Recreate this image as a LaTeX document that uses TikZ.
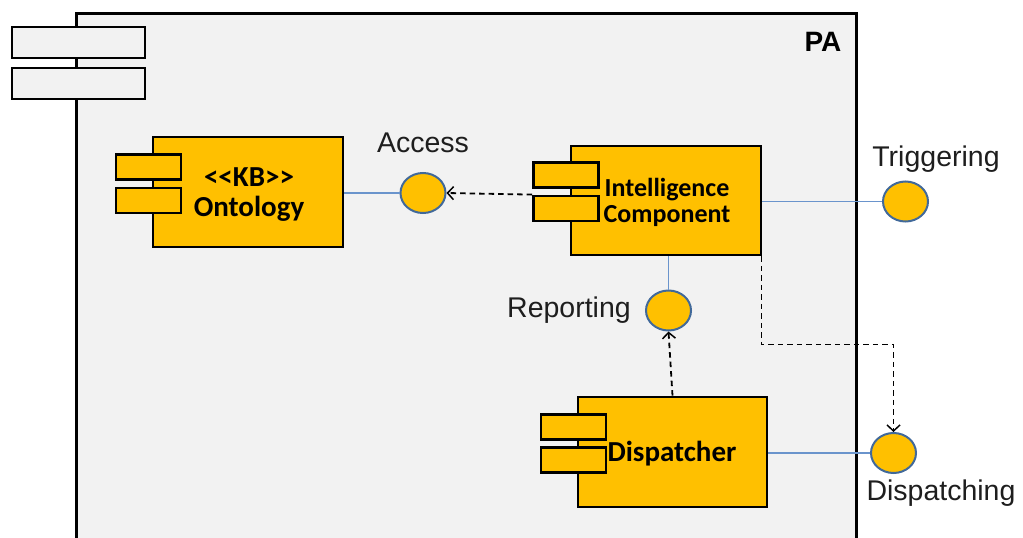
\documentclass[tikz,border=0pt]{standalone}
\usepackage{fontspec}
\setmainfont{Liberation Sans}
\newfontfamily\carlito{Carlito}
\usetikzlibrary{shapes.geometric,arrows.meta}
\definecolor{compfill}{HTML}{FFC000}
\definecolor{pkgfill}{HTML}{F2F2F2}
\definecolor{ifborder}{HTML}{41699A}
\definecolor{ifline}{HTML}{6A94CC}
\definecolor{labeltext}{HTML}{1E1E1E}

\tikzset{
  pkgbox/.style={draw=black, line width=2.6, fill=pkgfill, rectangle, inner sep=0},
  pkgtab/.style={draw=black, line width=2.6, fill=pkgfill, rectangle, inner sep=0,
    minimum width=133, minimum height=31},
  compbox/.style={draw=black, line width=2.8, fill=compfill, rectangle, inner sep=0},
  comptab/.style={draw=black, line width=2.8, fill=compfill, rectangle, inner sep=0,
    minimum width=65, minimum height=25},
  comptext/.style={font=\carlito\bfseries, text=black, align=center, inner sep=0},
  iface/.style={ellipse, draw=ifborder, line width=2, fill=compfill,
    minimum width=45, minimum height=40, inner sep=0},
  ifline/.style={draw=ifline, line width=1.3},
  depline/.style={draw=black, line width=1.8, dash pattern=on 5.5pt off 4pt,
    -{Straight Barb[length=6pt,width=13pt,line width=1.5pt]}},
  iflabel/.style={font=\fontsize{28.5}{30}\selectfont, text=labeltext, inner sep=0},
}

\begin{document}
\begin{tikzpicture}[x=1pt,y=-1pt]
\useasboundingbox (0,0) rectangle (1023,538);
\begin{scope}
\clip (0,0) rectangle (1023,538);

% package PA
\node[pkgbox, minimum width=780, minimum height=560, anchor=north west] (pa) at (75,12) {};
\node[pkgtab] (patab1) at (78.5,42.5) {};
\node[pkgtab] (patab2) at (78.5,83.5) {};
\node[font=\bfseries\fontsize{28}{30}\selectfont, inner sep=0] (palabel) at (823,42) {PA};

% components
\node[compbox, minimum width=190, minimum height=110] (onto) at (248,192) {};
\node[comptab] (ontotab1) at (148.5,167) {};
\node[comptab] (ontotab2) at (148.5,200.5) {};
\node[comptext, font=\carlito\bfseries\fontsize{29}{30}\selectfont] (ontotext) at (249,195) {<<KB>>\\Ontology};

\node[compbox, minimum width=190, minimum height=109] (ic) at (666,200.5) {};
\node[comptab] (ictab1) at (566,175) {};
\node[comptab] (ictab2) at (566,208.5) {};
\node[comptext, font=\carlito\bfseries\fontsize{26}{26}\selectfont] (ictext) at (667,202) {Intelligence\\Component};

\node[compbox, minimum width=189, minimum height=110] (disp) at (672.5,452) {};
\node[comptab] (disptab1) at (573.5,427) {};
\node[comptab] (disptab2) at (573.5,460) {};
\node[comptext, font=\carlito\bfseries\fontsize{29}{30}\selectfont] (disptext) at (672,454) {Dispatcher};

% provided interfaces
\node[iface] (access) at (423,193) {};
\node[iface] (trig) at (905.5,201.5) {};
\node[iface] (rep) at (668.5,310.5) {};
\node[iface] (dsp) at (893.5,453) {};

\node[iflabel] (accesslbl) at (423,143) {Access};
\node[iflabel] (triglbl) at (936,159) {Triggering};
\node[iflabel] (replbl) at (569,310) {Reporting};
\node[iflabel] (dsplbl) at (941,493) {Dispatching};

% interface realisations
\draw[ifline] (onto.east |- access.west) -- (access.west);
\draw[ifline] (ic.east |- trig.west) -- (trig.west);
\draw[ifline] (rep.north |- ic.south) -- (rep.north);
\draw[ifline] (disp.east |- dsp.west) -- (dsp.west);

% usage dependencies
\draw[depline] (ictab2.north west) -- (access.east);
\draw[depline] (disp.north) -- (rep.south);
\draw[depline] ([xshift=-1]ic.south east) -- ++(0,88) -| (dsp.north);

\end{scope}
\end{tikzpicture}
\end{document}
